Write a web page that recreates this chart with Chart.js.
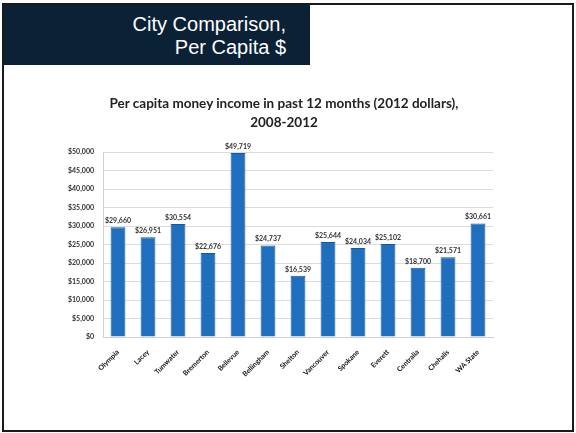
<!DOCTYPE html>
<html>
<head>
<meta charset="utf-8">
<script src="https://cdn.jsdelivr.net/npm/chart.js@4"></script>
<style>
  html, body { margin: 0; padding: 0; background: #fdfdfd; }
  .slide {
    position: absolute; left: 2px; top: 3px; width: 568px; height: 425px;
    border: 2px solid #1a1a1a; background: #ffffff;
  }
  .banner {
    position: absolute; left: 0; top: 0; width: 306px; height: 60px;
    background: #0b2236; color: #ffffff;
    font-family: "Liberation Sans", Arial, sans-serif; font-size: 20px; line-height: 23px;
    text-align: right; box-sizing: border-box; padding: 8px 24px 0 0;
  }
  .chart-title {
    position: absolute; left: 84px; width: 400px; top: 94px;
    font-family: Lato, sans-serif; font-weight: bold; font-size: 13.5px; line-height: 19px;
    color: #222222; text-align: center; z-index: 2;
  }
  #chart { position: absolute; left: 0; top: 85px; }
</style>
</head>
<body>
<div class="slide">
  <div class="banner">City Comparison,<br>Per Capita $</div>
</div>
<div class="chart-title" id="chartTitle"></div>
<canvas id="chart" width="576" height="300"></canvas>
<script>
// values
const cities = ['Olympia', 'Lacey', 'Tumwater', 'Bremerton', 'Bellevue', 'Bellingham', 'Shelton',
  'Vancouver', 'Spokane', 'Everett', 'Centralia', 'Chehalis', 'WA State'];
const perCapita = [29660, 26951, 30554, 22676, 49719, 24737, 16539, 25644, 24034, 25102, 18700, 21571, 30661];
const chartTitle = ['Per capita money income in past 12 months (2012 dollars),', '2008-2012'];

document.getElementById('chartTitle').innerHTML = chartTitle.join('<br>');

const money = v => '$' + v.toLocaleString('en-US');

// value labels above each bar
const barLabels = {
  id: 'barLabels',
  afterDatasetsDraw(chart) {
    const ctx = chart.ctx;
    const meta = chart.getDatasetMeta(0);
    ctx.save();
    ctx.font = 'bold 7px Lato, sans-serif';
    ctx.fillStyle = '#333333';
    ctx.textAlign = 'center';
    ctx.textBaseline = 'bottom';
    meta.data.forEach((bar, i) => {
      ctx.fillText(money(perCapita[i]), bar.x, bar.y - 3);
    });
    ctx.restore();
  }
};

const ctx = document.getElementById('chart').getContext('2d');
new Chart(ctx, {
  type: 'bar',
  data: {
    labels: cities,
    datasets: [{
      data: perCapita,
      backgroundColor: '#1f6fbe',
      borderColor: '#15599a',
      borderWidth: 1,
      barPercentage: 0.52,
      categoryPercentage: 0.95
    }]
  },
  options: {
    responsive: false,
    animation: false,
    layout: { padding: { left: 0, right: 83, top: 67, bottom: 0 } },
    plugins: {
      legend: { display: false },
      tooltip: { enabled: false },
      title: { display: false }
    },
    scales: {
      x: {
        grid: { display: false },
        border: { color: '#d0d0d0' },
        ticks: {
          color: '#111111',
          font: { family: 'Lato, sans-serif', size: 7, weight: 'bold' },
          minRotation: 45, maxRotation: 45, padding: 3
        },
        afterFit(scale) { scale.height = 48; }
      },
      y: {
        min: 0, max: 50000,
        ticks: {
          stepSize: 5000,
          color: '#333333',
          font: { family: 'Lato, sans-serif', size: 7, weight: 'bold' },
          callback: v => money(v),
          padding: 9
        },
        grid: { color: '#dcdcdc', drawTicks: false },
        border: { color: '#d0d0d0' },
        afterFit(scale) { scale.width = 103; }
      }
    }
  },
  plugins: [barLabels]
});
</script>
</body>
</html>
